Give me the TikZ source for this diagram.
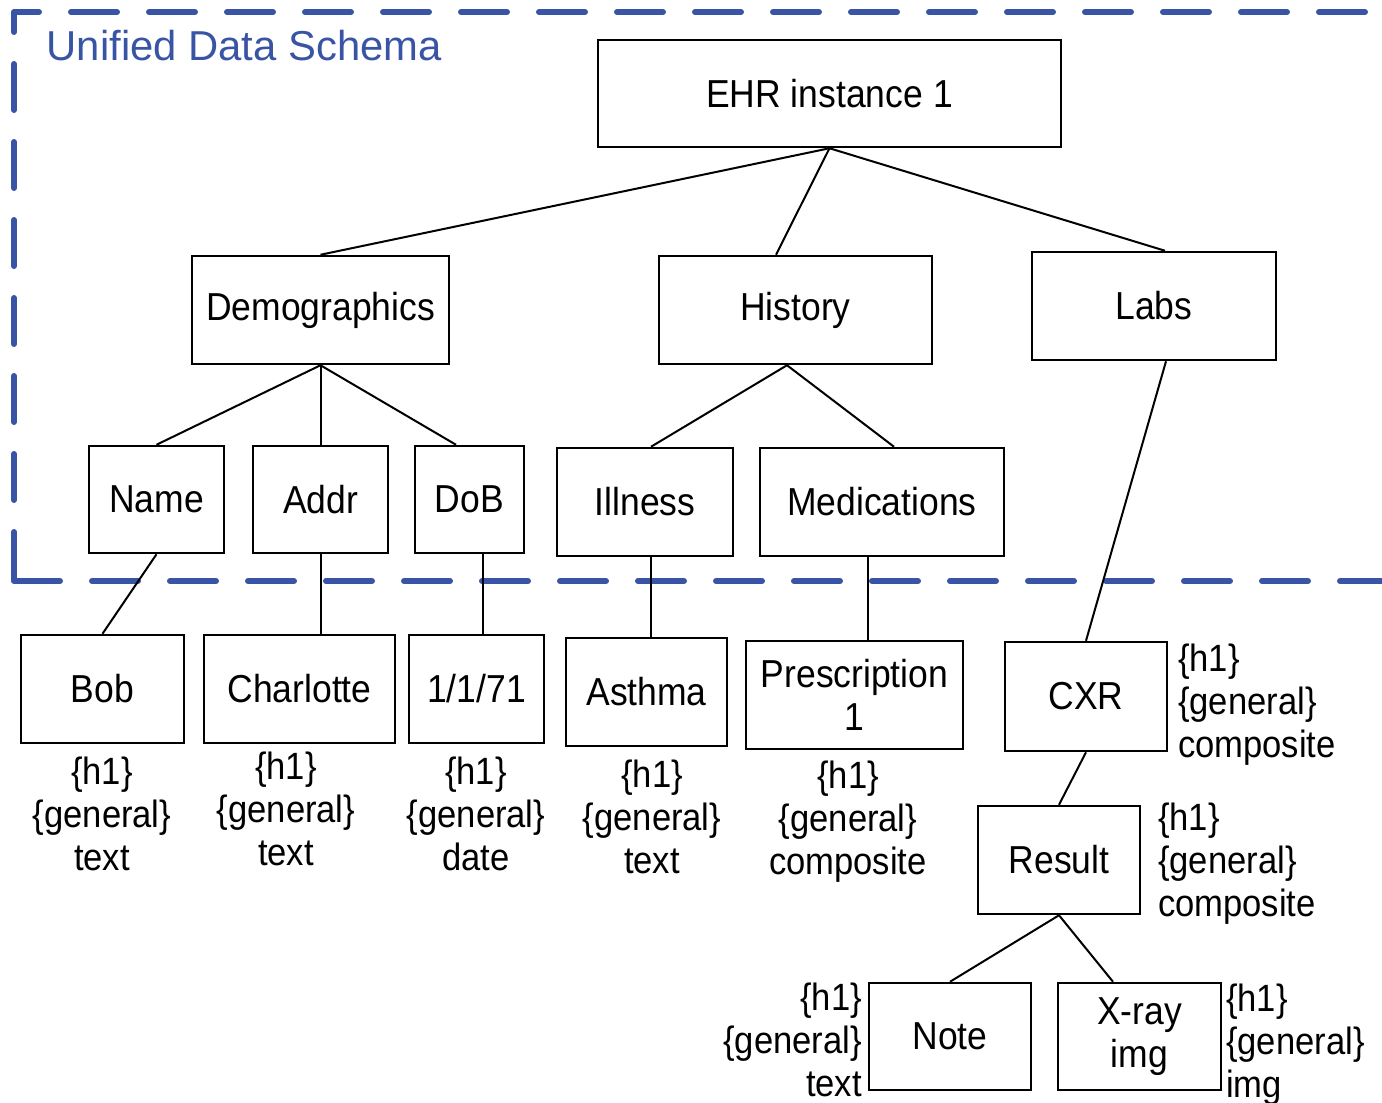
\documentclass[tikz,border=0pt]{standalone}
\usepackage{fontspec}
\setmainfont{Liberation Sans}
\newfontfamily\lblfont{Liberation Sans}[FakeStretch=0.91]
\usetikzlibrary{calc}
\definecolor{schemablue}{RGB}{57,84,164}
\tikzset{
  ehrbox/.style={draw=black, line width=2.5pt, rectangle, inner sep=0pt, align=center,
    font=\lblfont\fontsize{39}{42.5}\selectfont, text=black},
  treelink/.style={draw=black, line width=2pt},
  annot/.style={inner sep=0pt, text=black, font=\lblfont\fontsize{38}{43}\selectfont},
  schemaframe/.style={draw=schemablue, line width=6pt, line cap=round, line join=round},
  schemadash/.style={schemaframe, dash pattern=on 46pt off 32pt},
}
\newcommand{\tagtext}{\rule{0pt}{28pt}\{h1\}\\\{general\}\\}
\begin{document}
\begin{tikzpicture}[x=1pt, y=-1pt]
\useasboundingbox (0,0) rectangle (1382,1103);
\clip (0,0) rectangle (1382,1103);

% dashed frame of the unified schema
\draw[schemaframe] (14,32) -- (14,12) -- (39,12);
\draw[schemadash] (71,12) -- (1420,12);
\draw[schemadash] (14,64) -- (14,506);
\draw[schemaframe] (14,532) -- (14,581) -- (60,581);
\draw[schemadash] (92,581) -- (1420,581);
\node[anchor=base west, inner sep=0pt, text=schemablue,
      font=\fontsize{41.8}{48}\selectfont] (title) at (46.5,60) {Unified Data Schema};

% tree nodes
\node[ehrbox, minimum width=463pt, minimum height=107pt] (ehr) at (829.5,93.5) {EHR instance 1};
\node[ehrbox, minimum width=257pt, minimum height=108pt] (demo) at (320.5,310) {Demographics};
\node[ehrbox, minimum width=273pt, minimum height=108pt] (hist) at (795.5,310) {History};
\node[ehrbox, minimum width=244pt, minimum height=108pt] (labs) at (1154,306) {Labs};
\node[ehrbox, minimum width=135pt, minimum height=107pt] (name) at (156.5,499.5) {Name};
\node[ehrbox, minimum width=135pt, minimum height=107pt] (addr) at (320.5,499.5) {Addr};
\node[ehrbox, minimum width=109pt, minimum height=107pt] (dob) at (469.5,499.5) {DoB};
\node[ehrbox, minimum width=176pt, minimum height=108pt] (ill) at (645,502) {Illness};
\node[ehrbox, minimum width=244pt, minimum height=108pt] (meds) at (882,502) {Medications};
\node[ehrbox, minimum width=163pt, minimum height=108pt] (bob) at (102.5,689) {Bob};
\node[ehrbox, minimum width=191pt, minimum height=108pt] (charl) at (299.5,689) {Charlotte};
\node[ehrbox, minimum width=135pt, minimum height=108pt] (date) at (476.5,689) {1/1/71};
\node[ehrbox, minimum width=161pt, minimum height=108pt] (asth) at (646.5,692) {Asthma};
\node[ehrbox, minimum width=217pt, minimum height=108pt] (presc) at (854.5,695) {Prescription\\1};
\node[ehrbox, minimum width=162pt, minimum height=109pt] (cxr) at (1086,696.5) {CXR};
\node[ehrbox, minimum width=162pt, minimum height=108pt] (res) at (1059,860) {Result};
\node[ehrbox, minimum width=162pt, minimum height=107pt] (note) at (950,1036.5) {Note};
\node[ehrbox, minimum width=163pt, minimum height=107pt] (xray) at (1139.5,1036.5) {X-ray\\img};

% type annotations
\node[annot, anchor=north, align=center] (bobtag) at (102,756) {\tagtext text};
\node[annot, anchor=north, align=center] (charltag) at (286,751) {\tagtext text};
\node[annot, anchor=north, align=center] (datetag) at (476,756) {\tagtext date};
\node[annot, anchor=north, align=center] (asthtag) at (652,759) {\tagtext text};
\node[annot, anchor=north, align=center] (presctag) at (848,760) {\tagtext composite};
\node[annot, anchor=north west, align=left] (cxrtag) at (1178,643) {\tagtext composite};
\node[annot, anchor=north west, align=left] (restag) at (1158,802) {\tagtext composite};
\node[annot, anchor=north east, align=right] (notetag) at (862,982) {\tagtext text};
\node[annot, anchor=north west, align=left] (xraytag) at (1226,983) {\tagtext img};

% connectors
\draw[treelink] (ehr.south) -- (demo.north);
\draw[treelink] (ehr.south) -- ($(hist.north)+(-19.5,0)$);
\draw[treelink] (ehr.south) -- ($(labs.north)+(11,0)$);
\draw[treelink] (demo.south) -- (name.north);
\draw[treelink] (demo.south) -- (addr.north);
\draw[treelink] (demo.south) -- ($(dob.north)+(-13.5,0)$);
\draw[treelink] ($(hist.south)+(-8.5,0)$) -- ($(ill.north)+(6,0)$);
\draw[treelink] ($(hist.south)+(-8.5,0)$) -- ($(meds.north)+(12,0)$);
\draw[treelink] ($(labs.south)+(12,0)$) -- (cxr.north);
\draw[treelink] (name.south) -- (bob.north);
\draw[treelink] (addr.south) -- ($(charl.north)+(21,0)$);
\draw[treelink] ($(dob.south)+(13.5,0)$) -- ($(date.north)+(6.5,0)$);
\draw[treelink] ($(ill.south)+(6,0)$) -- ($(asth.north)+(4.5,0)$);
\draw[treelink] ($(meds.south)+(-14,0)$) -- ($(presc.north)+(13.5,0)$);
\draw[treelink] (cxr.south) -- (res.north);
\draw[treelink] (res.south) -- (note.north);
\draw[treelink] (res.south) -- ($(xray.north)+(-26.5,0)$);
\end{tikzpicture}
\end{document}
